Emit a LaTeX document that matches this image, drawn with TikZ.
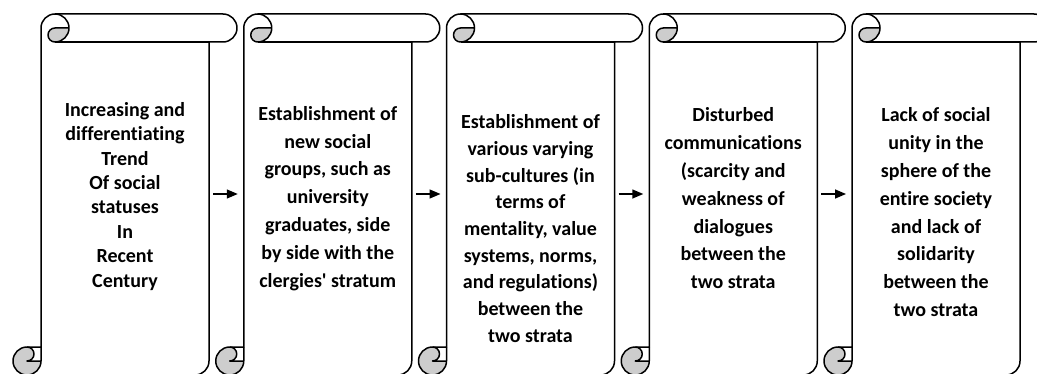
\documentclass[tikz,border=0pt]{standalone}
\usepackage{fontspec}
\setmainfont{Carlito}[Ligatures={NoCommon,NoContextual}]
\usetikzlibrary{arrows.meta}
\definecolor{curlgray}{RGB}{205,205,205}
\tikzset{
  scrollline/.style={line width=1.5pt, line join=round},
  curl/.style={fill=curlgray},
  stext/.style={font=\bfseries\fontsize{20}{27.8}\selectfont, align=center},
  conn/.style={ % arrows between the scrolls
    -{Triangle[length=11pt,width=9pt]},
    line width=1.5pt,
  },
  pics/vscroll/.style={code={
    % paper
    \fill[white] (28,-333) -- (28,-14) arc[start angle=180,end angle=90,radius=14]
      -- (210,0) arc[start angle=90,end angle=-90,radius=14]
      -- (196,-28) -- (196,-347) arc[start angle=0,end angle=-90,radius=14]
      -- (14,-361) arc[start angle=-90,end angle=-270,radius=14] -- cycle;
    % rolled parts
    \fill[curl] (56,-14) arc[start angle=0,end angle=-90,radius=14]
      arc[start angle=-90,end angle=-270,radius=7] -- cycle;
    \fill[curl] (28,-347) arc[start angle=0,end angle=-270,radius=14]
      arc[start angle=90,end angle=-90,radius=7] -- cycle;
    % outline
    \draw[scrollline] (28,-333) -- (28,-14) arc[start angle=180,end angle=90,radius=14]
      -- (210,0) arc[start angle=90,end angle=-90,radius=14]
      -- (196,-28) -- (196,-347) arc[start angle=0,end angle=-90,radius=14]
      -- (14,-361) arc[start angle=-90,end angle=-270,radius=14] -- cycle;
    \draw[scrollline] (42,0) arc[start angle=90,end angle=-90,radius=14]
      arc[start angle=-90,end angle=-270,radius=7] -- (56,-14);
    \draw[scrollline] (196,-28) -- (42,-28);
    \draw[scrollline] (14,-333) arc[start angle=90,end angle=-90,radius=7] -- (28,-347);
    \draw[scrollline] (14,-361) arc[start angle=-90,end angle=0,radius=14] -- (28,-333);
    \coordinate (-in) at (28,-180);
    \coordinate (-out) at (196,-180);
  }},
}

\begin{document}
\begin{tikzpicture}[x=1pt, y=1pt]
  \clip (0,0) rectangle (1037,373);
  % scroll 1
  \pic (s1) at (13,359) {vscroll};
  \node[stext, font=\bfseries\fontsize{20}{24.4}\selectfont] (t1) at (125,176.8)
    {Increasing and\\differentiating\\Trend\\Of social\\statuses\\In\\Recent\\Century};
  % scroll 2
  \pic (s2) at (215.75,359) {vscroll};
  \node[stext] (t2) at (327.75,174.7)
    {Establishment of\\new social\\groups, such as\\university\\graduates, side\\by side with the\\clergies\textquotesingle{} stratum};
  \draw[conn, shorten <=4pt, shorten >=6pt] (s1-out) -- (s2-in);
  % scroll 3
  \pic (s3) at (418.5,359) {vscroll};
  \node[stext, font=\bfseries\fontsize{20}{26.7}\selectfont] (t3) at (530.5,144.5)
    {Establishment of\\various varying\\sub-cultures (in\\terms of\\mentality, value\\systems, norms,\\and regulations)\\between the\\two strata};
  \draw[conn, shorten <=4pt, shorten >=6pt] (s2-out) -- (s3-in);
  % scroll 4
  \pic (s4) at (621.25,359) {vscroll};
  \node[stext] (t4) at (733.25,174.7)
    {Disturbed\\communications\\(scarcity and\\weakness of\\dialogues\\between the\\two strata};
  \draw[conn, shorten <=4pt, shorten >=6pt] (s3-out) -- (s4-in);
  % scroll 5
  \pic (s5) at (824,359) {vscroll};
  \node[stext] (t5) at (936,160.7)
    {Lack of social\\unity in the\\sphere of the\\entire society\\and lack of\\solidarity\\between the\\two strata};
  \draw[conn, shorten <=4pt, shorten >=6pt] (s4-out) -- (s5-in);
\end{tikzpicture}
\end{document}
